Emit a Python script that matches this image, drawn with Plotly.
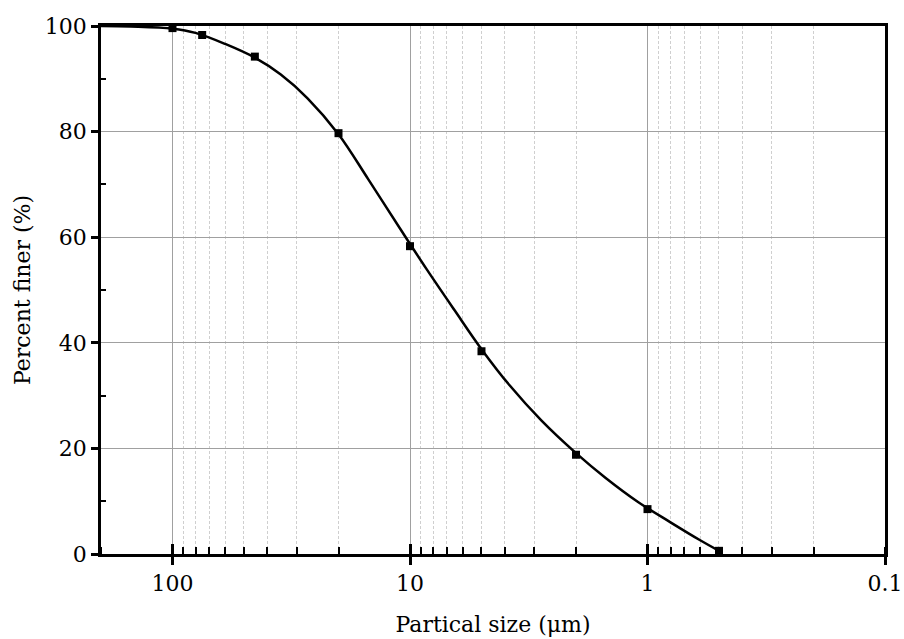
import math
import plotly.graph_objects as go

# Measured data points
size_um = [100, 75, 45, 20, 10, 5, 2, 1, 0.5]
percent_finer = [99.6, 98.3, 94.2, 79.7, 58.3, 38.4, 18.8, 8.5, 0.6]

# Fitted curve
curve_size = [200, 150, 100, 80, 60, 45, 35, 27, 20, 15, 11, 8.5, 6.5, 5, 3.8, 2.8, 2,
              1.5, 1.1, 0.8, 0.6, 0.5]
curve_pct = [100, 99.9, 99.5, 98.7, 96.6, 94.0, 90.8, 86.3, 79.5, 71.0, 61.6, 53.9, 46.2,
             38.8, 31.9, 25.3, 19.1, 14.4, 9.9, 6.0, 2.6, 0.6]

x_tickvals = [100, 10, 1, 0.1]
x_ticktext = ["100", "10", "1", "0.1"]
y_tickvals = [0, 20, 40, 60, 80, 100]

FONT = "DejaVu Serif"

fig = go.Figure()
fig.add_trace(go.Scatter(
    x=curve_size, y=curve_pct, mode="lines",
    line=dict(color="black", width=2.5, shape="spline", smoothing=1.0),
    showlegend=False, hoverinfo="skip"))
fig.add_trace(go.Scatter(
    x=size_um, y=percent_finer, mode="markers",
    marker=dict(symbol="square", size=8, color="black"),
    showlegend=False))
# invisible trace on overlay axis that carries the inner half of the major ticks
fig.add_trace(go.Scatter(x=[100], y=[0], xaxis="x2", mode="markers",
                         marker=dict(opacity=0), showlegend=False, hoverinfo="skip"))

xrange = [math.log10(200), -1]

fig.update_layout(
    width=904, height=639,
    margin=dict(l=101, r=19, t=26, b=85),
    paper_bgcolor="white", plot_bgcolor="white",
    font=dict(family=FONT, color="black"),
    xaxis=dict(
        type="log", range=xrange, automargin=False,
        tickvals=x_tickvals, ticktext=x_ticktext,
        ticks="outside", ticklen=8, tickwidth=2.5, tickcolor="black",
        tickfont=dict(size=22, family=FONT),
        showline=True, linecolor="black", linewidth=2.5, mirror=True,
        showgrid=True, gridcolor="#a0a0a0", gridwidth=1,
        minor=dict(dtick="D1", ticks="inside", ticklen=7, tickwidth=2, tickcolor="black",
                   showgrid=True, gridcolor="#cfcfcf", griddash="3px,2px", gridwidth=1),
        zeroline=False,
        title=dict(text="Partical size (μm)", font=dict(size=22, family=FONT), standoff=22),
    ),
    xaxis2=dict(
        type="log", range=xrange, overlaying="x", anchor="y", side="bottom", automargin=False,
        tickvals=x_tickvals, ticks="inside", ticklen=10, tickwidth=2.5, tickcolor="black",
        showticklabels=False, showgrid=False, showline=False, zeroline=False,
    ),
    yaxis=dict(
        range=[0, 100], automargin=False,
        tickvals=y_tickvals,
        ticks="outside", ticklen=7, tickwidth=2.5, tickcolor="black",
        tickfont=dict(size=22, family=FONT),
        showline=True, linecolor="black", linewidth=2.5, mirror=True,
        showgrid=True, gridcolor="#a0a0a0", gridwidth=1,
        minor=dict(tickvals=[10, 30, 50, 70, 90], ticks="inside", ticklen=5, tickwidth=2,
                   tickcolor="black", showgrid=False),
        zeroline=False,
        title=dict(text="Percent finer (%)", font=dict(size=22, family=FONT), standoff=9),
    ),
)

fig.write_html("out.html")
